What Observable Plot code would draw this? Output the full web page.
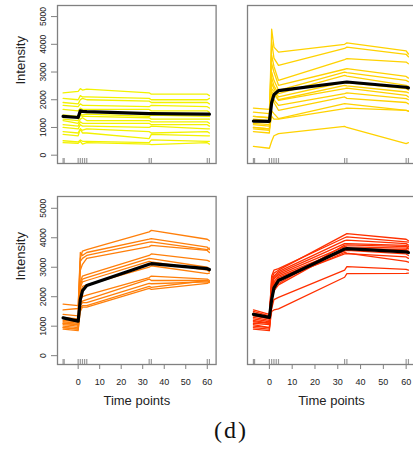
<!DOCTYPE html>
<html><head><meta charset="utf-8">
<script src="https://cdn.jsdelivr.net/npm/d3@7"></script>
<script src="https://cdn.jsdelivr.net/npm/@observablehq/plot@0.6"></script>
<style>
body{margin:0;background:#fff;}
#wrap{position:relative;width:413px;height:458px;overflow:hidden;background:#fff;font-family:"Liberation Sans",Arial,sans-serif;}
#wrap svg{position:absolute;}
#cap{position:absolute;left:231px;top:418px;transform:translateX(-50%);font-family:"Liberation Serif","Times New Roman",serif;font-size:24px;line-height:24px;letter-spacing:2px;color:#111;white-space:nowrap;}
</style>
</head><body>
<div id="wrap"><div id="cap">(d)</div></div>
<script>
// time points of each profile
const T = [-7, 0, 1, 2, 4, 33, 34, 60, 61];
// rug time points
const rugT = [-7, -6.5, 0, 1, 2, 3, 4, 33, 34, 60, 61];
const yTicks = [0, 1000, 2000, 3000, 4000, 5000];
const xTicks = [0, 10, 20, 30, 40, 50, 60];
const xLabel = "Time points";
const yLabel = "Intensity";
const caption = "(d)";
const colors = ["#F2F200", "#FFD200", "#FF7F0A", "#FF3000"];

const yellowLines = [
  [2250, 2300, 2400, 2350, 2380, 2250, 2200, 2200, 2150],
  [2050, 2000, 2150, 2100, 2100, 2050, 2000, 2000, 2050],
  [1900, 1850, 2000, 2050, 2000, 1950, 1900, 1900, 1850],
  [1800, 1750, 1850, 1800, 1800, 1750, 1800, 1750, 1700],
  [1650, 1600, 1700, 1650, 1650, 1650, 1600, 1600, 1550],
  [1450, 1400, 1500, 1450, 1480, 1400, 1450, 1400, 1400],
  [1300, 1250, 1450, 1400, 1400, 1350, 1300, 1300, 1300],
  [1250, 1150, 1300, 1350, 1250, 1250, 1200, 1200, 1150],
  [1100, 1050, 1200, 1150, 1150, 1150, 1100, 1100, 1050],
  [1000, 950, 1100, 1050, 1050, 1000, 1050, 950, 950],
  [850, 800, 950, 900, 950, 850, 800, 850, 800],
  [750, 700, 950, 800, 800, 600, 750, 700, 700],
  [520, 480, 550, 500, 500, 450, 550, 500, 500],
  [450, 430, 500, 400, 450, 400, 380, 450, 400]
];
const yellowMean = [1400, 1360, 1600, 1580, 1570, 1500, 1500, 1480, 1480];

const goldLines = [
  [1300, 1250, 4550, 3900, 3720, 4000, 4050, 3760, 3650],
  [1250, 1200, 4100, 3500, 3240, 3850, 3900, 3640, 3550],
  [1550, 1500, 3600, 3200, 2700, 3450, 3480, 3360, 3300],
  [1400, 1350, 3300, 3000, 2520, 3100, 3120, 2840, 2780],
  [1150, 1100, 3000, 2700, 2340, 3000, 2980, 2700, 2650],
  [1700, 1650, 2800, 2500, 2220, 2880, 2850, 2520, 2480],
  [1000, 950, 2600, 2400, 2100, 2640, 2620, 2400, 2350],
  [1250, 1200, 2400, 2300, 2000, 2520, 2500, 2280, 2250],
  [850, 800, 2300, 2200, 1980, 2400, 2420, 2160, 2100],
  [1100, 1050, 2200, 2000, 1800, 2220, 2250, 2040, 2000],
  [1400, 1350, 2000, 1900, 1620, 2100, 2050, 1900, 1850],
  [950, 900, 1600, 1500, 1320, 1860, 1850, 1620, 1580],
  [1000, 950, 1400, 1300, 1300, 1680, 1700, 1620, 1600],
  [320, 250, 500, 700, 780, 1040, 1000, 420, 450]
];
const goldMean = [1230, 1220, 1900, 2180, 2330, 2630, 2640, 2450, 2430];

const orangeLines = [
  [1750, 1700, 3300, 3550, 3600, 4200, 4250, 3950, 3900],
  [1550, 1600, 3500, 3400, 3500, 3950, 3970, 3680, 3600],
  [1400, 1350, 3200, 3300, 3400, 3850, 3860, 3600, 3650],
  [1300, 1250, 2900, 3100, 3300, 3700, 3740, 3570, 3500],
  [1200, 1150, 2500, 2700, 2750, 3400, 3450, 3230, 3200],
  [1100, 1050, 2400, 2600, 2650, 3300, 3290, 3000, 2950],
  [1050, 1000, 2300, 2500, 2550, 3200, 3180, 2900, 2850],
  [950, 900, 2100, 2350, 2400, 3000, 3050, 2780, 2800],
  [1000, 950, 1900, 2000, 2050, 2650, 2700, 2600, 2550],
  [1150, 1100, 1800, 1850, 1900, 2600, 2550, 2550, 2500],
  [900, 850, 1700, 1800, 1800, 2450, 2440, 2500, 2480],
  [1100, 1050, 1600, 1700, 1700, 2350, 2320, 2550, 2520],
  [950, 900, 1500, 1650, 1650, 2280, 2250, 2450, 2500]
];
const orangeMean = [1280, 1170, 1900, 2200, 2380, 3100, 3120, 2950, 2920];

const redLines = [
  [1500, 1350, 2600, 2800, 2900, 4100, 4140, 3950, 3900],
  [1450, 1300, 2700, 2900, 2950, 4000, 4030, 3860, 3850],
  [1350, 1250, 2500, 2700, 2850, 3900, 3920, 3800, 3750],
  [1300, 1200, 2400, 2650, 2800, 3800, 3800, 3740, 3700],
  [1250, 1150, 2300, 2600, 2750, 3700, 3690, 3650, 3620],
  [1150, 1100, 2200, 2500, 2700, 3600, 3600, 3550, 3500],
  [1100, 1050, 2100, 2400, 2650, 3550, 3570, 3450, 3400],
  [1000, 950, 2000, 2300, 2600, 3450, 3460, 3350, 3300],
  [950, 900, 1900, 2200, 2550, 3500, 3480, 3200, 3170],
  [900, 850, 2000, 2200, 2400, 3650, 3640, 3600, 3550],
  [1550, 1400, 2300, 2500, 2450, 3750, 3760, 3700, 3650],
  [1200, 1100, 1600, 1900, 1980, 2900, 3020, 2930, 2900],
  [1050, 950, 1500, 1550, 1590, 2660, 2780, 2790, 2800]
];
const redMean = [1400, 1300, 1900, 2300, 2550, 3620, 3630, 3520, 3500];

const toRows = (lines) => lines.flatMap((vals, i) => vals.map((v, j) => ({id: i, t: T[j], v})));
const meanRows = (vals) => vals.map((v, j) => ({t: T[j], v}));

const panels = [
  {lines: yellowLines, mean: yellowMean, color: colors[0], left: 0, top: 0, w: 230, h: 180, ml: 57, mr: 14.4, mt: 5, mb: 17, xAxis: false, yAxis: true},
  {lines: goldLines, mean: goldMean, color: colors[1], left: 230, top: 0, w: 185, h: 180, ml: 17, mr: 0, mt: 5, mb: 17, xAxis: false, yAxis: false},
  {lines: orangeLines, mean: orangeMean, color: colors[2], left: 0, top: 180, w: 230, h: 230, ml: 57, mr: 14.4, mt: 16, mb: 46, xAxis: true, yAxis: true},
  {lines: redLines, mean: redMean, color: colors[3], left: 230, top: 180, w: 185, h: 230, ml: 17, mr: 0, mt: 16, mb: 46, xAxis: true, yAxis: false}
];

const wrap = document.getElementById("wrap");
for (const p of panels) {
  const frameH = p.h - p.mt - p.mb;
  const marks = [
    Plot.line(toRows(p.lines), {x: "t", y: "v", z: "id", stroke: p.color, strokeWidth: 1.3}),
    Plot.line(meanRows(p.mean), {x: "t", y: "v", stroke: "#000", strokeWidth: 3.2}),
    Plot.tickX(rugT, {x: d => d, stroke: "#9a9a9a", strokeWidth: 1.2, insetTop: frameH - 5}),
    Plot.frame({stroke: "#808080", strokeWidth: 1.3})
  ];
  if (p.yAxis) {
    marks.push(Plot.axisY({ticks: yTicks, tickFormat: d => String(d), tickSize: 6, tickPadding: 6, tickRotate: -90, fontSize: 8.5, stroke: "#808080", fill: "#222", label: null}));
    marks.push(Plot.text([yLabel], {frameAnchor: "left", dx: -33, rotate: -90, lineAnchor: "bottom", fontSize: 13, fill: "#222"}));
  }
  if (p.xAxis) {
    marks.push(Plot.axisX({ticks: xTicks, tickFormat: d => String(d), tickSize: 5, tickPadding: 9, fontSize: 9, stroke: "#808080", fill: "#222", label: null}));
    marks.push(Plot.text([xLabel], {frameAnchor: "bottom", dy: 40.5, lineAnchor: "bottom", fontSize: 13, fill: "#222"}));
  }
  const svg = Plot.plot({
    width: p.w, height: p.h,
    marginLeft: p.ml, marginRight: p.mr, marginTop: p.mt, marginBottom: p.mb,
    x: {domain: [-9.6, 64.1], label: null, axis: p.xAxis ? undefined : null},
    y: {domain: [-300, 5400], label: null, axis: p.yAxis ? undefined : null},
    style: {fontFamily: "'Liberation Sans', Arial, sans-serif", background: "transparent", overflow: "visible"},
    marks
  });
  svg.style.left = p.left + "px";
  svg.style.top = p.top + "px";
  wrap.appendChild(svg);
}
document.getElementById("cap").textContent = caption;
</script>
</body></html>
